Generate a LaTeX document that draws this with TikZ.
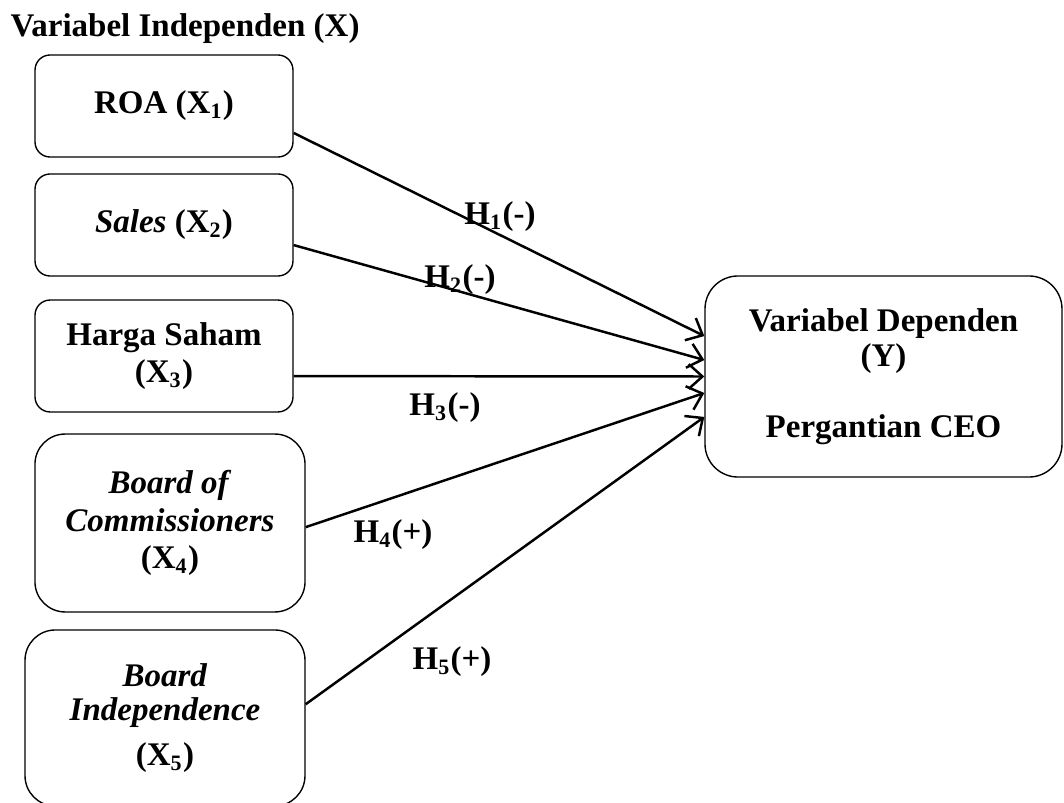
\documentclass[tikz,border=0pt]{standalone}
\usepackage{fontspec}
\setmainfont{Liberation Serif}
\usepackage{tikz}
\usetikzlibrary{arrows.meta}

\begin{document}
\begin{tikzpicture}[x=0.3636pt, y=-0.3636pt,
	varbox/.style={draw, line width=0.5pt, rounded corners=5.5pt, align=center, inner sep=0,
		font=\fontsize{12}{13.5}\selectfont\bfseries},
	bigbox/.style={varbox, rounded corners=11pt},
	hyp/.style={font=\fontsize{12}{13.5}\selectfont\bfseries, inner sep=0},
	link/.style={line width=0.9pt, -{Straight Barb[length=5pt, width=9pt, line width=0.9pt]}}
]
\useasboundingbox (0,0) rectangle (1064,803);

\node[hyp, anchor=base west] (title) at (10,37) {Variabel Independen (X)};

\node[varbox, minimum width=93.8pt, minimum height=37.1pt] (x1) at (164,106) {ROA (X\textsubscript{1})};
\node[varbox, minimum width=93.8pt, minimum height=37.1pt] (x2) at (164,225) {\textit{Sales} (X\textsubscript{2})};
\node[varbox, minimum width=93.8pt, minimum height=40.7pt] (x3) at (164,356) {Harga Saham\\(X\textsubscript{3})};
\node[bigbox, minimum width=98.2pt, minimum height=64.7pt] (x4) at (170,523) {\textit{Board of}\\\textit{Commissioners}\\(X\textsubscript{4})};
\node[bigbox, minimum width=101.8pt, minimum height=64pt,
	font=\fontsize{12}{12.5}\selectfont\bfseries] (x5) at (165,718) {\textit{Board}\\\textit{Independence}\\[4pt](X\textsubscript{5})};

\node[varbox, rounded corners=12pt, minimum width=129.8pt, minimum height=73.1pt,
	font=\fontsize{12}{12.8}\selectfont\bfseries] (dep) at (883.5,376.5) {Variabel Dependen\\(Y)\\~\\Pergantian CEO};

% hipotesis
\draw[link] ([yshift=-9.8pt]x1.east) -- ([yshift=14.7pt]dep.west);
\draw[link] ([yshift=-7.3pt]x2.east) -- ([yshift=6pt]dep.west);
\draw[link] ([yshift=-7.3pt]x3.east) -- (dep.west);
\draw[link] ([yshift=-1.5pt]x4.east) -- ([yshift=-6pt]dep.west);
\draw[link] ([yshift=5pt]x5.east) -- ([yshift=-14.7pt]dep.west);

\node[hyp] (h1) at (500,217) {H\textsubscript{1}(-)};
\node[hyp] (h2) at (460,280) {H\textsubscript{2}(-)};
\node[hyp] (h3) at (445,408) {H\textsubscript{3}(-)};
\node[hyp] (h4) at (393,535) {H\textsubscript{4}(+)};
\node[hyp] (h5) at (452,662) {H\textsubscript{5}(+)};
\end{tikzpicture}
\end{document}
